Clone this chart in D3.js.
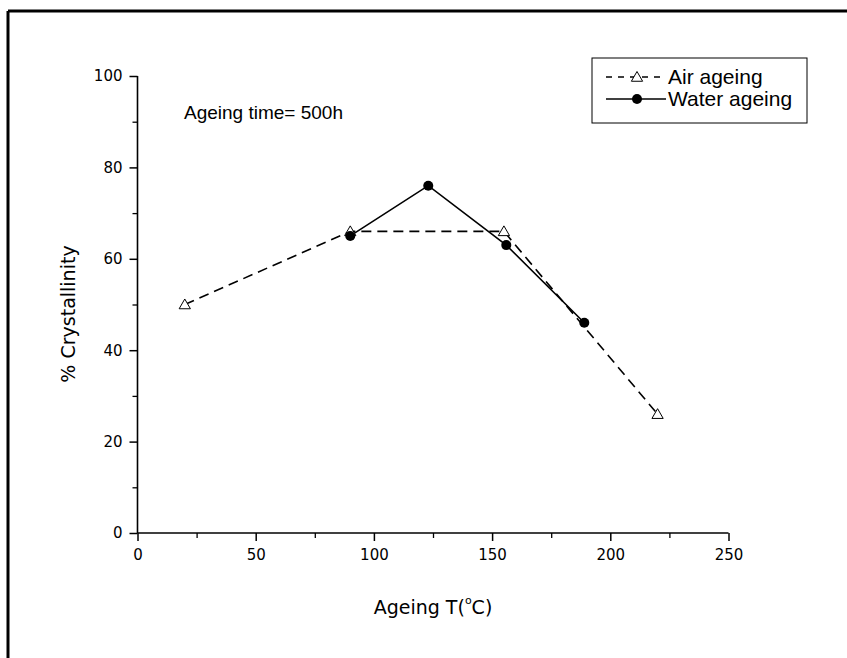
<!DOCTYPE html>
<html>
<head>
<meta charset="utf-8">
<script src="https://cdn.jsdelivr.net/npm/d3@7"></script>
<style>
  html, body { margin: 0; padding: 0; background: #fff; }
  svg { display: block; }
  text { fill: #000; }
</style>
</head>
<body>
<svg id="chart" width="847" height="658"></svg>
<script>
// ---- data ----
const airX = [20, 90, 155, 220];
const airY = [50, 66, 66, 26];
const waterX = [90, 123, 156, 189];
const waterY = [65, 76, 63, 46];
const xTicks = [0, 50, 100, 150, 200, 250];
const xMinorTicks = [25, 75, 125, 175, 225];
const yTicks = [0, 20, 40, 60, 80, 100];
const yMinorTicks = [10, 30, 50, 70, 90];
const seriesNames = ["Air ageing", "Water ageing"];
const annotation = "Ageing time= 500h";
const xTitle = "Ageing T(";
const yTitle = "% Crystallinity";

const svg = d3.select("#chart");
const tickFont = "DejaVu Sans, Verdana, sans-serif";
const textFont = "DejaVu Sans, Verdana, sans-serif";

// outer frame (top and left edges visible)
svg.append("line").attr("x1", 8).attr("y1", 11).attr("x2", 847).attr("y2", 11)
  .attr("stroke", "#000").attr("stroke-width", 3);
svg.append("line").attr("x1", 8).attr("y1", 11).attr("x2", 8).attr("y2", 658)
  .attr("stroke", "#000").attr("stroke-width", 3);

const x = d3.scaleLinear().domain([0, 250]).range([137.5, 728.5]);
const y = d3.scaleLinear().domain([0, 100]).range([533, 76]);

// axes
const xAxis = svg.append("g").attr("transform", `translate(0,${y(0)})`)
  .call(d3.axisBottom(x).tickValues(xTicks).tickSize(8).tickPadding(8).tickFormat(d3.format("d")));
xAxis.select(".domain").attr("stroke-width", 1.6).attr("d", `M${x(0)},0H${x(250)}`);
xAxis.selectAll(".tick line").attr("stroke-width", 1.5);
xAxis.selectAll(".tick text").attr("font-family", tickFont).attr("font-size", 15);
svg.append("g").attr("transform", `translate(0,${y(0)})`)
  .call(d3.axisBottom(x).tickValues(xMinorTicks).tickSize(5).tickFormat(""))
  .call(g => g.select(".domain").remove())
  .selectAll(".tick line").attr("stroke-width", 1.3);

const yAxis = svg.append("g").attr("transform", `translate(${x(0)},0)`)
  .call(d3.axisLeft(y).tickValues(yTicks).tickSize(8).tickPadding(7).tickFormat(d3.format("d")));
yAxis.select(".domain").attr("stroke-width", 1.6).attr("d", `M0,${y(0)}V${y(100)}`);
yAxis.selectAll(".tick line").attr("stroke-width", 1.5);
yAxis.selectAll(".tick text").attr("font-family", tickFont).attr("font-size", 15);
svg.append("g").attr("transform", `translate(${x(0)},0)`)
  .call(d3.axisLeft(y).tickValues(yMinorTicks).tickSize(5).tickFormat(""))
  .call(g => g.select(".domain").remove())
  .selectAll(".tick line").attr("stroke-width", 1.3);

// titles
const xt = svg.append("text").attr("x", 433).attr("y", 614).attr("text-anchor", "middle")
  .attr("font-family", textFont).attr("font-size", 19);
xt.append("tspan").text(xTitle);
xt.append("tspan").attr("font-size", 11).attr("dy", -10).text("o");
xt.append("tspan").attr("dy", 10).text("C)");

svg.append("text").attr("transform", "translate(75,314) rotate(-90)")
  .attr("text-anchor", "middle").attr("font-family", textFont).attr("font-size", 19)
  .text(yTitle);

svg.append("text").attr("x", 184).attr("y", 119)
  .attr("font-family", "Liberation Sans, Arial, sans-serif").attr("font-size", 19)
  .text(annotation);

// series
const air = airX.map((v, i) => [v, airY[i]]);
const water = waterX.map((v, i) => [v, waterY[i]]);
const line = d3.line().x(d => x(d[0])).y(d => y(d[1]));

svg.append("path").datum(air).attr("d", line).attr("fill", "none")
  .attr("stroke", "#000").attr("stroke-width", 1.6).attr("stroke-dasharray", "10,6");
svg.append("path").datum(water).attr("d", line).attr("fill", "none")
  .attr("stroke", "#000").attr("stroke-width", 1.6);

const tri = d3.symbol().type(d3.symbolTriangle).size(55);
svg.selectAll(".airpt").data(air).join("path").attr("class", "airpt")
  .attr("transform", d => `translate(${x(d[0])},${y(d[1]) + 1})`)
  .attr("d", tri).attr("fill", "#fff").attr("stroke", "#000").attr("stroke-width", 1);
svg.selectAll(".waterpt").data(water).join("circle").attr("class", "waterpt")
  .attr("cx", d => x(d[0])).attr("cy", d => y(d[1])).attr("r", 5).attr("fill", "#000");

// legend
const lg = svg.append("g");
lg.append("rect").attr("x", 592).attr("y", 58).attr("width", 215).attr("height", 65)
  .attr("fill", "#fff").attr("stroke", "#000").attr("stroke-width", 1);
const rows = [77, 99];
lg.append("line").attr("x1", 606).attr("x2", 666).attr("y1", rows[0]).attr("y2", rows[0])
  .attr("stroke", "#000").attr("stroke-width", 1.4).attr("stroke-dasharray", "6,6");
lg.append("path").attr("transform", `translate(637,${rows[0] + 1})`).attr("d", tri)
  .attr("fill", "#fff").attr("stroke", "#000");
lg.append("line").attr("x1", 606).attr("x2", 666).attr("y1", rows[1]).attr("y2", rows[1])
  .attr("stroke", "#000").attr("stroke-width", 1.6);
lg.append("circle").attr("cx", 637).attr("cy", rows[1]).attr("r", 5).attr("fill", "#000");
lg.selectAll(".lt").data(seriesNames).join("text").attr("class", "lt")
  .attr("x", 668).attr("y", (d, i) => rows[i] + 7)
  .attr("font-family", "Liberation Sans, Arial, sans-serif").attr("font-size", 21)
  .text(d => d);
</script>
</body>
</html>
